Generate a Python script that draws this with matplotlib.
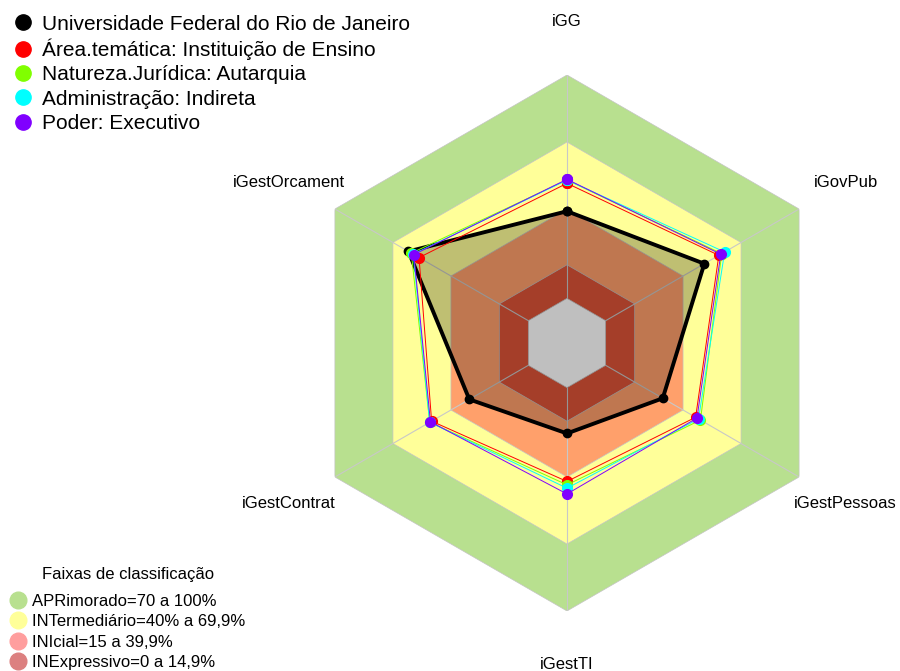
import matplotlib.pyplot as plt
import numpy as np
from matplotlib.lines import Line2D

plt.rcParams['font.family'] = ['Liberation Sans', 'DejaVu Sans']

# eixos do radar, sentido horario a partir do topo
eixos = ['iGG', 'iGovPub', 'iGestPessoas', 'iGestTI', 'iGestContrat', 'iGestOrcament']

# valores (%)
ufrj = [39, 51, 29.5, 20.5, 30.5, 62]
area_tematica = [51.5, 58.5, 46.5, 42, 50, 56.5]
natureza = [53, 60, 49, 43.5, 51, 60.5]
administracao = [53, 61.5, 48, 45, 51, 59.5]
poder = [53.3, 59.5, 47.2, 47.6, 50.6, 59.2]

series_nomes = ['Universidade Federal do Rio de Janeiro',
                'Área.temática: Instituição de Ensino',
                'Natureza.Jurídica: Autarquia',
                'Administração: Indireta',
                'Poder: Executivo']
series_cores = ['black', '#FF0000', '#80FF00', '#00FFFF', '#8000FF']

# faixas de classificacao
faixas_lim = [100, 70, 40, 15, 0]
faixas_cor = ['#B8E08F', '#FFFF99', '#FFA06B', '#DD5338', 'white']
faixas_nomes = ['APRimorado=70 a 100%', 'INTermediário=40% a 69,9%',
                'INIcial=15 a 39,9%', 'INExpressivo=0 a 14,9%']
faixas_leg_cor = ['#B8E08F', '#FFFF99', '#FF9E9E', '#DC8080']

fig = plt.figure(figsize=(9, 6.71), dpi=100)
# centro em (567, 343) px, raio externo 268 px
ax = fig.add_axes([(567 - 268) / 900, 1 - (343 + 268) / 671, 536 / 900, 536 / 671],
                  projection='polar')
ax.set_theta_zero_location('N')
ax.set_theta_direction(-1)
ax.set_ylim(-20, 100)
ax.grid(False)
ax.set_xticks([])
ax.set_yticks([])
ax.spines['polar'].set_visible(False)
ax.patch.set_visible(False)

ang = np.deg2rad(np.arange(len(eixos)) * 60)
ang_f = np.append(ang, ang[0])

def fechar(v):
    return np.append(v, v[0])

for lim, cor in zip(faixas_lim, faixas_cor):
    ax.fill(ang_f, fechar(np.full(len(eixos), lim)), color=cor, ec='#C4C4C4', lw=0.5, zorder=1)

for a in ang:
    ax.plot([a, a], [0, 100], color='#C8C8C8', lw=0.8, zorder=2)

ax.fill(ang_f, fechar(ufrj), color='black', alpha=0.25, lw=0, zorder=3)

todas = [ufrj, area_tematica, natureza, administracao, poder]
for i, (vals, cor) in enumerate(zip(todas, series_cores)):
    if i == 0:
        ax.plot(ang_f, fechar(vals), color=cor, lw=2.8, marker='o', ms=6, zorder=4)
    else:
        ax.plot(ang_f, fechar(vals), color=cor, lw=0.7, marker='o', ms=7, zorder=4 + i)

for a, nome in zip(ang, eixos):
    ax.text(a, 124, nome, ha='center', va='center', fontsize=12, clip_on=False)

# legenda das series
h1 = [Line2D([], [], ls='', marker='o', color=c, ms=11) for c in series_cores]
fig.legend(h1, series_nomes, loc='upper left', bbox_to_anchor=(0.0, 1.0),
           frameon=False, fontsize=15, handlelength=0.8, handletextpad=0.5,
           labelspacing=0.25, borderaxespad=0.3)

# legenda das faixas
fig.text(128.5 / 900, 1 - 574 / 671, 'Faixas de classificação', ha='center', va='center',
         fontsize=12)
h2 = [Line2D([], [], ls='', marker='o', color=c, ms=12) for c in faixas_leg_cor]
fig.legend(h2, faixas_nomes, loc='lower left',
           bbox_to_anchor=(10 / 900, 0.0), frameon=False, fontsize=12,
           handlelength=0.8, handletextpad=0.5, labelspacing=0.33, borderaxespad=0.0,
           borderpad=0.05)

fig.savefig('out.png', dpi=100)
